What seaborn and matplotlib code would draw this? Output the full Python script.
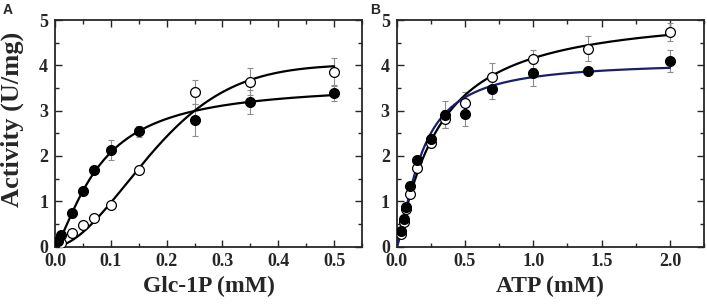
import numpy as np
import pandas as pd
import seaborn as sns
import matplotlib.pyplot as plt
from matplotlib.ticker import MultipleLocator

# Panel A: Glc-1P saturation
glc_filled_x = [0.005, 0.01, 0.03, 0.05, 0.07, 0.10, 0.15, 0.25, 0.35, 0.50]
glc_filled_y = [0.13, 0.25, 0.75, 1.22, 1.68, 2.13, 2.54, 2.79, 3.19, 3.39]
glc_filled_err = [0.0, 0.0, 0.0, 0.0, 0.0, 0.23, 0.12, 0.35, 0.27, 0.18]
glc_open_x = [0.01, 0.03, 0.05, 0.07, 0.10, 0.15, 0.25, 0.35, 0.50]
glc_open_y = [0.08, 0.30, 0.47, 0.62, 0.92, 1.68, 3.41, 3.64, 3.86]
glc_open_err = [0.0, 0.0, 0.0, 0.0, 0.0, 0.0, 0.26, 0.29, 0.31]

# Panel B: ATP saturation
atp_filled_x = [0.03, 0.05, 0.07, 0.10, 0.15, 0.25, 0.35, 0.50, 0.70, 1.0, 1.4, 2.0]
atp_filled_y = [0.35, 0.60, 0.87, 1.33, 1.91, 2.37, 2.91, 2.93, 3.48, 3.83, 3.87, 4.09]
atp_filled_err = [0.0, 0.0, 0.0, 0.0, 0.0, 0.0, 0.30, 0.28, 0.23, 0.28, 0.04, 0.24]
atp_open_x = [0.03, 0.05, 0.07, 0.10, 0.15, 0.25, 0.35, 0.50, 0.70, 1.0, 1.4, 2.0]
atp_open_y = [0.28, 0.55, 0.82, 1.16, 1.74, 2.29, 2.81, 3.17, 3.75, 4.13, 4.37, 4.73]
atp_open_err = [0.0, 0.0, 0.0, 0.0, 0.0, 0.06, 0.20, 0.23, 0.30, 0.20, 0.27, 0.20]

# fitted parameters for the drawn curves
glc_filled_fit = dict(vmax=3.6, k=0.08, n=1.4)        # Hill
glc_open_fit = dict(vmax=4.02, x0=0.209, n=1.75)      # sigmoidal
atp_filled_fit = dict(vmax=4.08, k=0.18, n=1.4)       # Hill
atp_open_fit = dict(vmax=5.2, k=0.30, n=1.15)         # Hill


def hill(x, vmax, k, n):
    return vmax * x**n / (k**n + x**n)


def sigm(x, vmax, x0, n):
    return vmax * (1 - np.exp(-(x / x0) ** n))


sns.set_style("ticks")
plt.rcParams['font.family'] = ['Liberation Serif', 'DejaVu Serif']
plt.rcParams['font.weight'] = 'bold'

fig = plt.figure(figsize=(7.07, 3.06), dpi=100)
axA = fig.add_axes([0.0778, 0.1944, 0.4342, 0.7402])
axB = fig.add_axes([0.5611, 0.1944, 0.4347, 0.7402])


def draw(ax, fx, fy, fe, ox, oy, oe, fcurve, ocurve, fcol):
    ax.errorbar(ox, oy, yerr=oe, fmt='none', ecolor='0.55', elinewidth=0.8,
                capsize=2.5, capthick=0.8, zorder=1)
    ax.errorbar(fx, fy, yerr=fe, fmt='none', ecolor='0.55', elinewidth=0.8,
                capsize=2.5, capthick=0.8, zorder=1)
    sns.lineplot(x=ocurve[0], y=ocurve[1], ax=ax, color='black', lw=1.6, zorder=2)
    sns.lineplot(x=fcurve[0], y=fcurve[1], ax=ax, color=fcol, lw=1.6, zorder=2)
    sns.scatterplot(x=ox, y=oy, ax=ax, marker='o', s=50, facecolor='white',
                    edgecolor='black', linewidth=0.9, zorder=3)
    sns.scatterplot(x=fx, y=fy, ax=ax, marker='o', s=50, color='black',
                    edgecolor='black', linewidth=0.9, zorder=4)


xa = np.linspace(0, 0.5, 300)
draw(axA, glc_filled_x, glc_filled_y, glc_filled_err,
     glc_open_x, glc_open_y, glc_open_err,
     (xa, hill(xa, **glc_filled_fit)), (xa, sigm(xa, **glc_open_fit)), 'black')

xb = np.linspace(0, 2.0, 400)
draw(axB, atp_filled_x, atp_filled_y, atp_filled_err,
     atp_open_x, atp_open_y, atp_open_err,
     (xb, hill(xb, **atp_filled_fit)), (xb, hill(xb, **atp_open_fit)), '#1b1f6b')

axA.set_xlim(0, 0.55)
axA.xaxis.set_major_locator(MultipleLocator(0.1))
axA.xaxis.set_minor_locator(MultipleLocator(0.05))
axB.set_xlim(0, 2.25)
axB.xaxis.set_major_locator(MultipleLocator(0.5))
axB.xaxis.set_minor_locator(MultipleLocator(0.25))

for ax in (axA, axB):
    ax.set_ylim(0, 5)
    ax.yaxis.set_major_locator(MultipleLocator(1))
    ax.yaxis.set_minor_locator(MultipleLocator(0.5))
    ax.xaxis.set_major_formatter(plt.FormatStrFormatter('%.1f'))
    ax.tick_params(which='both', direction='in', top=True, right=True,
                   labelsize=13, width=1.0, pad=5)
    ax.tick_params(which='major', length=5)
    ax.tick_params(which='minor', length=3)
    for sp in ax.spines.values():
        sp.set_linewidth(1.3)
        sp.set_visible(True)
    for lab in ax.get_xticklabels() + ax.get_yticklabels():
        lab.set_fontweight('bold')

axA.set_xlabel('Glc-1P (mM)', fontsize=17, fontweight='bold', labelpad=4)
axB.set_xlabel('ATP (mM)', fontsize=17, fontweight='bold', labelpad=4)
axA.set_ylabel('Activity (U/mg)', fontsize=19, fontweight='bold')
axA.yaxis.set_label_coords(-0.10, 0.56)
axB.set_ylabel('')

fig.text(0.004, 0.955, 'A', fontsize=10, fontweight='bold', family='Liberation Sans')
fig.text(0.524, 0.955, 'B', fontsize=10, fontweight='bold', family='Liberation Sans')

fig.savefig('out.png', dpi=100)
